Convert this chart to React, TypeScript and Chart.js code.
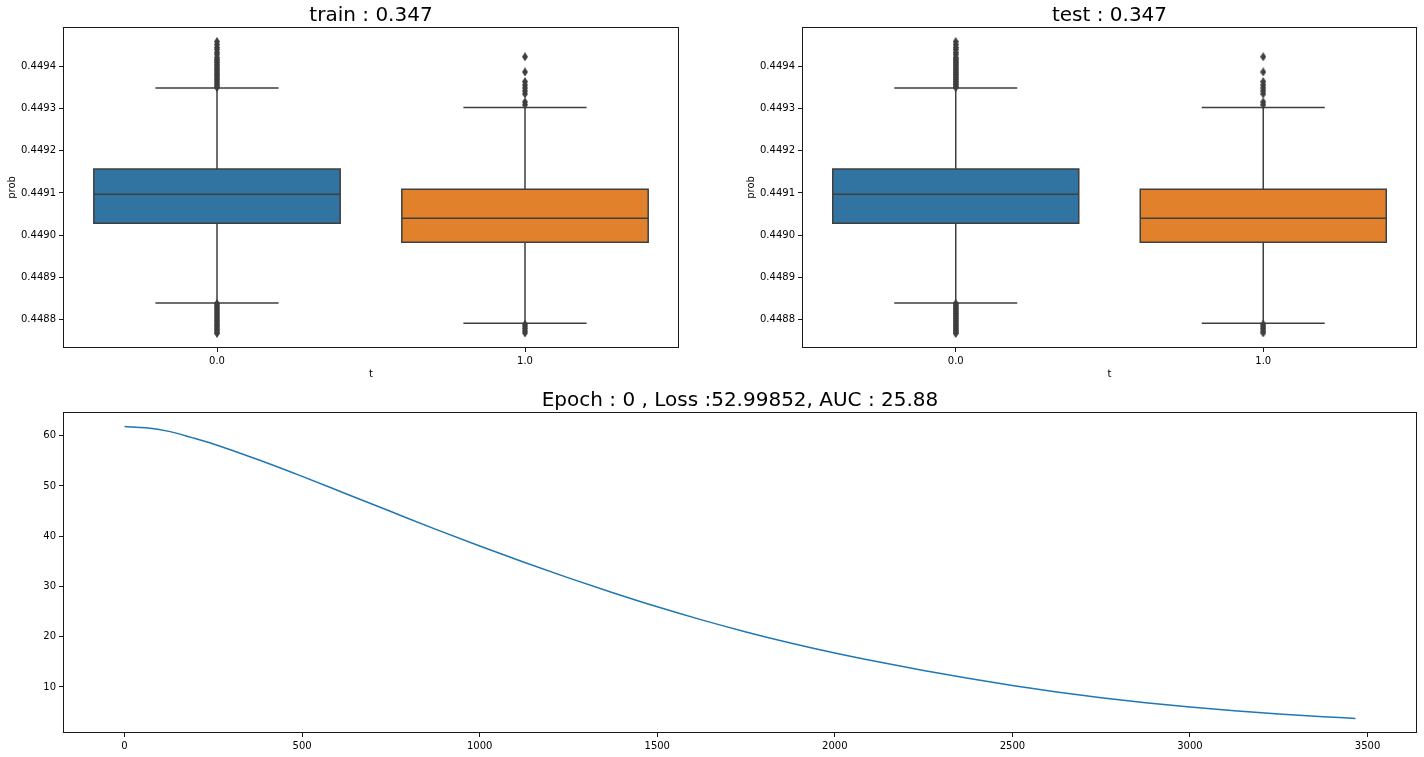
import React, { useEffect, useRef } from "react";
import { Chart, registerables } from "chart.js";

Chart.register(...registerables);

// ---------- Box plot data (train / test are identical in the reference) ----------
const boxCategories = ["0.0", "1.0"];
const boxColors = ["#3274a1", "#e1812c"];
const lineGray = "#3f3f3f";
const q1 = [0.449028, 0.448983];
const medians = [0.449097, 0.44904];
const q3 = [0.449157, 0.449109];
const whiskerLow = [0.448839, 0.448791];
const whiskerHigh = [0.449349, 0.449303];
const fliersCat0 = [
  0.449459, 0.449452, 0.449445, 0.44944, 0.449433, 0.449428, 0.449421, 0.449417,
  0.449413, 0.449409, 0.449405, 0.449401, 0.449397, 0.449393, 0.449389, 0.449385,
  0.449381, 0.449377, 0.449373, 0.449369, 0.449365, 0.449361, 0.449357, 0.449353,
  0.44935, 0.448838, 0.448834, 0.44883, 0.448826, 0.448822, 0.448818, 0.448814,
  0.44881, 0.448806, 0.448802, 0.448798, 0.448794, 0.44879, 0.448786, 0.448782,
  0.448778, 0.448774, 0.44877, 0.448767,
];
const fliersCat1 = [
  0.449423, 0.449387, 0.449364, 0.449356, 0.449349, 0.449342, 0.449335, 0.449316,
  0.449309, 0.448789, 0.448784, 0.448779, 0.448773, 0.448768,
];
const boxYTicks = [0.4488, 0.4489, 0.449, 0.4491, 0.4492, 0.4493, 0.4494];
const trainTitle = "train : 0.347";
const testTitle = "test : 0.347";
const boxXLabel = "t";
const boxYLabel = "prob";

// ---------- Loss curve data ----------
const lossSteps = [
  0, 60, 125, 190, 250, 375, 500, 625, 750, 875, 1000, 1125, 1250, 1375, 1500, 1625,
  1750, 1875, 2000, 2125, 2250, 2375, 2500, 2625, 2750, 2875, 3000, 3125, 3250, 3375,
  3466,
];
const lossValues = [
  61.8, 61.57, 60.85, 59.6, 58.35, 55.25, 51.9, 48.4, 44.9, 41.4, 38.05, 34.8, 31.7,
  28.75, 25.95, 23.35, 20.95, 18.75, 16.75, 14.95, 13.3, 11.75, 10.3, 9.0, 7.85, 6.85,
  6.0, 5.27, 4.65, 4.1, 3.75,
];
const lossXTicks = [0, 500, 1000, 1500, 2000, 2500, 3000, 3500];
const lossYTicks = [10, 20, 30, 40, 50, 60];
const lossTitle = "Epoch : 0 , Loss :52.99852, AUC : 25.88";

Chart.defaults.font.family = "'DejaVu Sans', sans-serif";
Chart.defaults.font.size = 10;
Chart.defaults.color = "#000";

// Axes frame (all four spines)
const framePlugin = {
  id: "frame",
  afterDraw(chart: any) {
    const { ctx, chartArea: a } = chart;
    ctx.save();
    ctx.strokeStyle = "#1a1a1a";
    ctx.lineWidth = 1;
    const l = Math.round(a.left) + 0.5;
    const t = Math.round(a.top) + 0.5;
    const r = Math.round(a.right) - 0.5;
    const b = Math.round(a.bottom) - 0.5;
    ctx.strokeRect(l, t, r - l, b - t);
    ctx.restore();
  },
};

// Title centred over the plot area (matplotlib style), baseline 6px above the axes
const axesTitlePlugin = {
  id: "axesTitle",
  afterDraw(chart: any, _args: any, opts: any) {
    if (!opts || !opts.text) return;
    const { ctx, chartArea: a } = chart;
    ctx.save();
    ctx.fillStyle = "#000";
    ctx.font = "20px 'DejaVu Sans', sans-serif";
    ctx.textAlign = "center";
    ctx.textBaseline = "alphabetic";
    ctx.fillText(opts.text, (a.left + a.right) / 2, a.top - 6);
    ctx.restore();
  },
};

function makeDiamond(): HTMLCanvasElement {
  const c = document.createElement("canvas");
  c.width = 6;
  c.height = 9;
  const g = c.getContext("2d")!;
  g.fillStyle = lineGray;
  g.beginPath();
  g.moveTo(3, 0);
  g.lineTo(6, 4.5);
  g.lineTo(3, 9);
  g.lineTo(0, 4.5);
  g.closePath();
  g.fill();
  return c;
}

function padRange(vals: number[]) {
  const mn = Math.min(...vals);
  const mx = Math.max(...vals);
  const p = (mx - mn) * 0.05;
  return [mn - p, mx + p];
}

const gridOpts = {
  display: true,
  drawOnChartArea: false,
  drawTicks: true,
  tickLength: 4,
  color: "#1a1a1a",
  lineWidth: 1,
};

function boxConfig(title: string, rightPad: number): any {
  const fliersByCat = [fliersCat0, fliersCat1];
  const datasets: any[] = [];
  boxCategories.forEach((_, i) => {
    datasets.push({
      data: [
        { x: i - 0.4, y: q3[i] },
        { x: i + 0.4, y: q3[i] },
      ],
      fill: { value: q1[i] },
      backgroundColor: boxColors[i],
      borderColor: "rgba(0,0,0,0)",
      borderWidth: 0,
      pointRadius: 0,
      order: 3,
    });
    const gap = { x: i, y: null };
    datasets.push({
      data: [
        { x: i - 0.4, y: q1[i] },
        { x: i + 0.4, y: q1[i] },
        { x: i + 0.4, y: q3[i] },
        { x: i - 0.4, y: q3[i] },
        { x: i - 0.4, y: q1[i] },
        { x: i + 0.4, y: q1[i] },
        gap,
        { x: i - 0.4, y: medians[i] },
        { x: i + 0.4, y: medians[i] },
        gap,
        { x: i, y: q3[i] },
        { x: i, y: whiskerHigh[i] },
        gap,
        { x: i, y: q1[i] },
        { x: i, y: whiskerLow[i] },
        gap,
        { x: i - 0.2, y: whiskerHigh[i] },
        { x: i + 0.2, y: whiskerHigh[i] },
        gap,
        { x: i - 0.2, y: whiskerLow[i] },
        { x: i + 0.2, y: whiskerLow[i] },
      ],
      fill: false,
      borderColor: lineGray,
      borderWidth: 1.5,
      borderJoinStyle: "miter",
      pointRadius: 0,
      spanGaps: false,
      tension: 0,
      order: 2,
    });
  });
  const diamond = makeDiamond();
  const flierPoints: any[] = [];
  fliersByCat.forEach((arr, i) => arr.forEach((v) => flierPoints.push({ x: i, y: v })));
  datasets.push({
    data: flierPoints,
    showLine: false,
    pointStyle: diamond,
    pointRadius: 3,
    pointBackgroundColor: lineGray,
    pointBorderColor: lineGray,
    order: 1,
  });
  const allY = [...fliersCat0, ...fliersCat1, ...whiskerLow, ...whiskerHigh];
  const [yMin, yMax] = padRange(allY);
  return {
    type: "line",
    data: { datasets },
    options: {
      animation: false,
      responsive: false,
      events: [],
      layout: { padding: { left: 0, right: rightPad, top: 27, bottom: 0 } },
      plugins: {
        legend: { display: false },
        tooltip: { enabled: false },
        title: { display: false },
        axesTitle: { text: title },
      },
      scales: {
        x: {
          type: "linear",
          min: -0.5,
          max: 1.5,
          afterBuildTicks: (s: any) => {
            s.ticks = boxCategories.map((_, i) => ({ value: i }));
          },
          afterFit: (s: any) => {
            s.height = 37;
          },
          ticks: {
            callback: (v: any) => boxCategories[Math.round(Number(v))],
            padding: 3,
            maxRotation: 0,
            autoSkip: false,
            color: "#000",
          },
          grid: gridOpts,
          border: { display: false },
          title: {
            display: true,
            text: boxXLabel,
            color: "#000",
            font: { size: 10 },
            padding: { top: 0, bottom: 5 },
          },
        },
        y: {
          type: "linear",
          min: yMin,
          max: yMax,
          afterBuildTicks: (s: any) => {
            s.ticks = boxYTicks.map((v) => ({ value: v }));
          },
          afterFit: (s: any) => {
            s.width = 63;
          },
          ticks: {
            callback: (v: any) => Number(v).toFixed(4),
            padding: 3,
            autoSkip: false,
            color: "#000",
          },
          grid: gridOpts,
          border: { display: false },
          title: {
            display: true,
            text: boxYLabel,
            color: "#000",
            font: { size: 10 },
            padding: { top: 6, bottom: 0 },
          },
        },
      },
    },
    plugins: [framePlugin, axesTitlePlugin],
  };
}

function lossConfig(): any {
  const [xMin, xMax] = padRange(lossSteps);
  const [yMin, yMax] = padRange(lossValues);
  return {
    type: "line",
    data: {
      datasets: [
        {
          data: lossSteps.map((x, i) => ({ x, y: lossValues[i] })),
          borderColor: "#1f77b4",
          borderWidth: 1.5,
          pointRadius: 0,
          fill: false,
          cubicInterpolationMode: "monotone",
        },
      ],
    },
    options: {
      animation: false,
      responsive: false,
      events: [],
      layout: { padding: { left: 0, right: 7, top: 27, bottom: 0 } },
      plugins: {
        legend: { display: false },
        tooltip: { enabled: false },
        title: { display: false },
        axesTitle: { text: lossTitle },
      },
      scales: {
        x: {
          type: "linear",
          min: xMin,
          max: xMax,
          afterBuildTicks: (s: any) => {
            s.ticks = lossXTicks.map((v) => ({ value: v }));
          },
          afterFit: (s: any) => {
            s.height = 24;
          },
          ticks: { padding: 3, maxRotation: 0, autoSkip: false, color: "#000", callback: (v: any) => String(v) },
          grid: gridOpts,
          border: { display: false },
        },
        y: {
          type: "linear",
          min: yMin,
          max: yMax,
          afterBuildTicks: (s: any) => {
            s.ticks = lossYTicks.map((v) => ({ value: v }));
          },
          afterFit: (s: any) => {
            s.width = 63;
          },
          ticks: { padding: 3, autoSkip: false, color: "#000", callback: (v: any) => String(v) },
          grid: gridOpts,
          border: { display: false },
        },
      },
    },
    plugins: [framePlugin, axesTitlePlugin],
  };
}

function ChartCanvas({ cfg, left, top, width, height }: any) {
  const ref = useRef<HTMLCanvasElement | null>(null);
  useEffect(() => {
    if (!ref.current) return;
    const chart = new Chart(ref.current, cfg());
    return () => chart.destroy();
  }, []);
  return (
    <canvas
      ref={ref}
      width={width}
      height={height}
      style={{ position: "absolute", left, top, width, height }}
    />
  );
}

export default function App() {
  return (
    <div
      style={{
        position: "fixed",
        left: 0,
        top: 0,
        width: 1424,
        height: 757,
        background: "#fff",
        overflow: "hidden",
      }}
    >
      <ChartCanvas cfg={() => boxConfig(trainTitle, 11)} left={0} top={0} width={690} height={385} />
      <ChartCanvas cfg={() => boxConfig(testTitle, 7)} left={739} top={0} width={685} height={385} />
      <ChartCanvas cfg={lossConfig} left={0} top={385} width={1424} height={372} />
    </div>
  );
}
